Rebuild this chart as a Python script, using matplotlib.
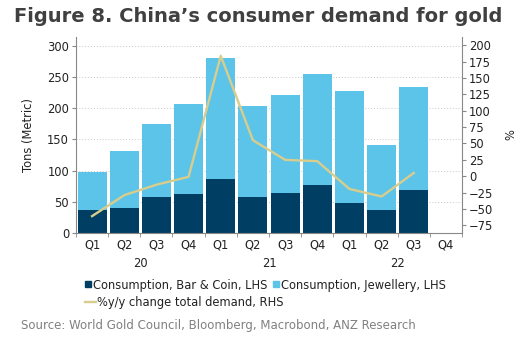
import matplotlib
matplotlib.use("Agg")
import matplotlib.pyplot as plt
from matplotlib.lines import Line2D
import numpy as np

quarters = ["Q1", "Q2", "Q3", "Q4", "Q1", "Q2", "Q3", "Q4", "Q1", "Q2", "Q3", "Q4"]
years = ["20", "21", "22"]
bar_coin = [37.5, 40, 57.5, 63, 86, 57.5, 64, 76.5, 48.5, 37.5, 69.5, np.nan]
jewellery = [60, 91, 117.5, 143.5, 194, 146, 156.5, 177.5, 178, 103, 164, np.nan]
yoy = [-61, -29, -13, -1, 184, 55, 25, 23, -19.5, -31, 5, np.nan]

dark = "#003f63"
light = "#5bc4e8"
gold = "#d8cd8c"
txt = "#222222"
fs = 8.3

plt.rcParams['font.family'] = ['DejaVu Sans']
fig = plt.figure(figsize=(5.23, 3.48), dpi=100)
ax = fig.add_axes([0.1453, 0.3305, 0.7381, 0.5632])
x = np.arange(len(quarters))
ax.bar(x, bar_coin, width=0.9, color=dark, zorder=2)
ax.bar(x, jewellery, bottom=bar_coin, width=0.9, color=light, zorder=2)
ax.set_xlim(-0.5, 11.5)
ax.set_ylim(0, 313.7)
ax.set_yticks(np.arange(0, 301, 50))
ax.yaxis.grid(True, linestyle=(0, (1, 2)), color="#c8c8c8", linewidth=0.7, zorder=0)
ax.set_axisbelow(True)
ax.set_xticks(x)
ax.set_xticklabels(quarters)
ax.set_xticks(np.arange(-0.5, 12, 1), minor=True)
ax.tick_params(axis="x", which="major", length=0, pad=4, labelsize=fs, colors=txt)
ax.tick_params(axis="x", which="minor", length=3, color="#888888", direction="out")
ax.tick_params(axis="y", length=3, color="#888888", labelsize=fs, labelcolor=txt, pad=2)
for s in ["top", "right"]:
    ax.spines[s].set_visible(False)
for s in ["left", "bottom"]:
    ax.spines[s].set_color("#888888")
    ax.spines[s].set_linewidth(0.8)
ax.set_ylabel("Tons (Metric)", fontsize=fs, color=txt, labelpad=9)

for i, yr in enumerate(years):
    ax.text(1.5 + 4 * i, -0.155, yr, transform=ax.get_xaxis_transform(),
            ha="center", va="center", fontsize=fs, color=txt)

ax2 = ax.twinx()
ax2.plot(x, yoy, color=gold, linewidth=1.7, zorder=3)
ax2.set_ylim(-86.8, 212.8)
ax2.set_yticks(np.arange(-75, 201, 25))
ax2.tick_params(axis="y", length=3, color="#888888", labelsize=fs, labelcolor=txt, pad=2)
for s in ["top", "left", "bottom"]:
    ax2.spines[s].set_visible(False)
ax2.spines["right"].set_color("#888888")
ax2.spines["right"].set_linewidth(0.8)
ax2.set_ylabel("%", fontsize=fs, color=txt, labelpad=8)

fig.text(0.027, 0.952, "Figure 8. China\u2019s consumer demand for gold",
         fontsize=14.0, fontweight="bold", color="#404040", ha="left", va="center")

h1 = [Line2D([], [], marker="s", linestyle="none", color=dark, markersize=4.5),
      Line2D([], [], marker="s", linestyle="none", color=light, markersize=4.5)]
fig.legend(h1, ["Consumption, Bar & Coin, LHS", "Consumption, Jewellery, LHS"],
           ncol=2, loc="center left", bbox_to_anchor=(0.163, 0.181), frameon=False,
           fontsize=fs, handlelength=0.5, handletextpad=0.15, columnspacing=0.55,
           borderpad=0, borderaxespad=0, labelcolor=txt)
h2 = [Line2D([], [], color=gold, linewidth=1.7)]
fig.legend(h2, ["%y/y change total demand, RHS"], loc="center left",
           bbox_to_anchor=(0.163, 0.130), frameon=False, fontsize=fs,
           handlelength=0.95, handletextpad=0.1, borderpad=0, borderaxespad=0,
           labelcolor=txt)

fig.text(0.04, 0.064, "Source: World Gold Council, Bloomberg, Macrobond, ANZ Research",
         fontsize=8.5, color="#808080", ha="left", va="center")

fig.savefig("out.png", dpi=100)
